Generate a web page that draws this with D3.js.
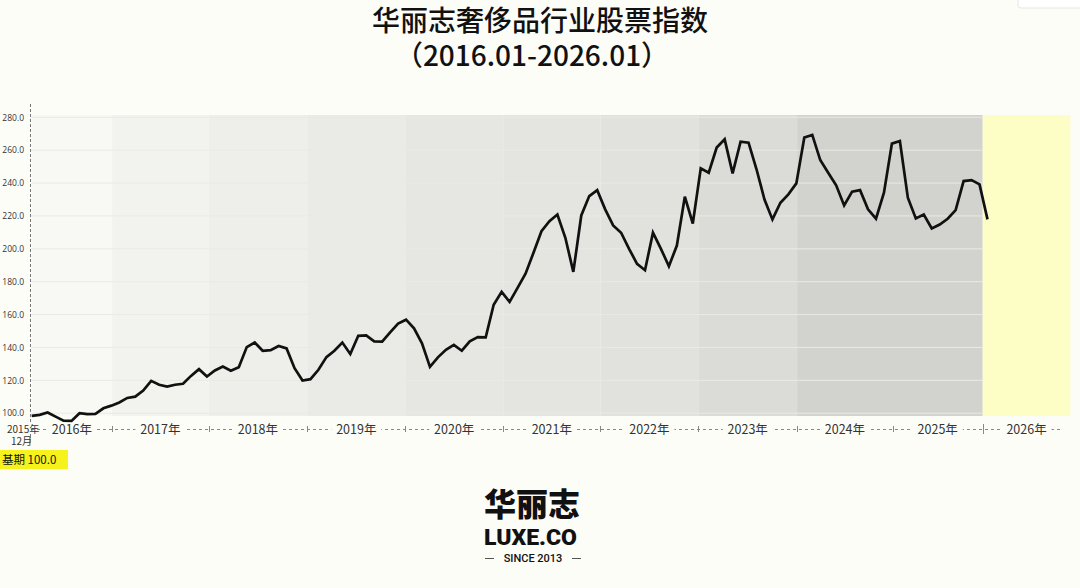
<!DOCTYPE html>
<html>
<head>
<meta charset="utf-8">
<script src="https://cdn.jsdelivr.net/npm/d3@7/dist/d3.min.js"></script>
<style>
  html, body { margin: 0; padding: 0; background: #fdfdf8; }
  svg { display: block; font-family: "Noto Sans CJK SC", "Noto Sans", sans-serif; }
  .ylab { font-family: "Open Sans", "Noto Sans", sans-serif; font-size: 8.5px; fill: #333; }
  .year { font-size: 12.5px; fill: #333; }
</style>
</head>
<body>
<svg id="chart"></svg>
<script>
// monthly index, base period = first point
const values = [
  98.4, 99.0, 100.4, 97.9, 95.5, 95.3, 100.0, 99.4, 99.6, 103.0,
  104.6, 106.5, 109.3, 110.1, 113.8, 119.7, 117.3, 116.2, 117.3, 117.9,
  122.7, 126.8, 122.3, 126.0, 128.4, 125.8, 128.0, 140.2, 143.0, 138.0,
  138.4, 140.9, 139.4, 127.4, 119.9, 120.7, 126.4, 134.1, 138.0, 143.0,
  136.0, 147.1, 147.3, 143.7, 143.5, 149.1, 154.5, 156.9, 151.6, 142.5,
  128.2, 134.0, 138.6, 141.6, 138.0, 143.7, 146.3, 146.1, 166.0, 173.8,
  167.7, 176.2, 184.9, 197.6, 210.7, 216.8, 220.9, 206.7, 186.0, 220.3,
  232.1, 235.7, 224.0, 214.2, 209.8, 200.0, 190.9, 187.0, 209.8, 200.0,
  189.4, 202.0, 231.7, 215.4, 248.9, 246.3, 261.6, 266.6, 245.9, 265.2,
  264.6, 248.4, 230.0, 217.9, 228.0, 233.1, 239.8, 267.7, 269.3, 254.0,
  246.3, 238.6, 226.4, 234.8, 235.7, 224.0, 218.3, 234.1, 264.0, 265.6,
  231.1, 218.5, 220.9, 212.4, 214.8, 218.3, 223.5, 241.2, 241.8, 239.2,
  217.9
];

// year segments on the x axis, in month-index units
const yearBounds = [0, 10.1, 22.2, 34.6, 46.9, 59.2, 71.4, 83.7, 96.1, 108.1, 119.4, 130.4];
const yearLabels = ['2016年', '2017年', '2018年', '2019年', '2020年', '2021年',
  '2022年', '2023年', '2024年', '2025年', '2026年'];
// shaded background bands: [from, to, colour]
const bandBounds = [0, 10.1, 22.2, 34.6, 46.9, 59.2, 71.4, 83.7, 96.1, 119.4, 130.4];
const bandColors = ['#f8f8f4', '#f2f2ee', '#eeeeea', '#eaeae7', '#e6e6e2', '#e4e4e0',
  '#e1e1dd', '#dbdbd7', '#d2d2ce', '#fdfdc6'];
const yTicks = [100, 120, 140, 160, 180, 200, 220, 240, 260, 280];

const fullWidth = 1080;
const fullHeight = 588;

const svg = d3.select('#chart')
    .attr('width', fullWidth)
    .attr('height', fullHeight);

const x = d3.scaleLinear()
    .domain([0, values.length - 1])
    .range([31.7, 987.5]);

const y = d3.scaleLinear()
    .domain([98.3, 281.4])
    .range([416, 115]);

// title
svg.append('text')
    .attr('x', 540)
    .attr('y', 31)
    .attr('text-anchor', 'middle')
    .style('font-size', '28px')
    .style('font-weight', 500)
    .style('fill', '#111')
    .text('华丽志奢侈品行业股票指数');

svg.append('text')
    .attr('x', 532)
    .attr('y', 66)
    .attr('text-anchor', 'middle')
    .style('font-size', '28px')
    .style('font-weight', 500)
    .style('fill', '#111')
    .text('（2016.01-2026.01）');

// background bands
svg.append('g')
  .selectAll('rect')
  .data(bandColors)
  .join('rect')
    .attr('x', (d, i) => x(bandBounds[i]))
    .attr('width', (d, i) => x(bandBounds[i + 1]) - x(bandBounds[i]))
    .attr('y', y.range()[1])
    .attr('height', y.range()[0] - y.range()[1])
    .attr('fill', d => d);

// gridlines
svg.append('g')
  .selectAll('line')
  .data(yTicks)
  .join('line')
    .attr('x1', 31)
    .attr('x2', x(bandBounds[bandBounds.length - 2]))
    .attr('y1', d => y(d))
    .attr('y2', d => y(d))
    .attr('stroke', '#e9e9e6')
    .attr('stroke-width', 1);

// y axis
const yAxis = svg.append('g')
    .attr('transform', 'translate(30, 0)')
    .call(d3.axisLeft(y)
      .tickValues(yTicks)
      .tickFormat(d3.format('.1f'))
      .tickSize(0)
      .tickPadding(6));
yAxis.select('.domain').remove();
yAxis.selectAll('text')
    .attr('class', 'ylab')
    .attr('font-family', null)
    .attr('font-size', null);

svg.append('line')
    .attr('x1', 30.5).attr('x2', 30.5)
    .attr('y1', 104).attr('y2', 444)
    .attr('stroke', '#777')
    .attr('stroke-dasharray', '3,2');

// x axis: dashed line, ticks, year labels
const axisY = 429;
svg.append('line')
    .attr('x1', 31).attr('x2', 1062)
    .attr('y1', axisY + 0.5).attr('y2', axisY + 0.5)
    .attr('stroke', '#888')
    .attr('stroke-dasharray', '3,3');

svg.append('g')
  .selectAll('line')
  .data(yearBounds.slice(1, -1))
  .join('line')
    .attr('x1', d => Math.round(x(d)) + 0.5)
    .attr('x2', d => Math.round(x(d)) + 0.5)
    .attr('y1', (d, i) => (i === yearBounds.length - 3 ? axisY - 5 : axisY - 3))
    .attr('y2', (d, i) => (i === yearBounds.length - 3 ? axisY + 5 : axisY + 3))
    .attr('stroke', '#888');

const yearG = svg.append('g');
yearLabels.forEach((label, i) => {
  const cx = (x(yearBounds[i]) + x(yearBounds[i + 1])) / 2;
  yearG.append('rect')
      .attr('x', cx - 25)
      .attr('y', axisY - 6)
      .attr('width', 50)
      .attr('height', 12)
      .attr('fill', '#fdfdf8');
  yearG.append('text')
      .attr('class', 'year')
      .attr('x', cx)
      .attr('y', axisY + 4.5)
      .attr('text-anchor', 'middle')
      .text(label);
});

// start-of-series label
svg.append('rect')
    .attr('x', 7).attr('y', axisY - 6)
    .attr('width', 24).attr('height', 11)
    .attr('fill', '#fdfdf8');
svg.append('text')
    .attr('x', 7).attr('y', axisY + 3.5)
    .style('font-size', '10px')
    .style('fill', '#333')
    .text('2015年');
svg.append('text')
    .attr('x', 11).attr('y', axisY + 15.5)
    .style('font-size', '10px')
    .style('fill', '#333')
    .text('12月');
svg.append('line')
    .attr('x1', 30.5).attr('x2', 30.5)
    .attr('y1', axisY + 6).attr('y2', axisY + 14)
    .attr('stroke', '#777')
    .attr('stroke-dasharray', '3,2');

// index line
const line = d3.line()
    .x((d, i) => x(i))
    .y(d => y(d));

svg.append('path')
    .datum(values)
    .attr('d', line)
    .attr('fill', 'none')
    .attr('stroke', '#111')
    .attr('stroke-width', 2.7)
    .attr('stroke-linejoin', 'miter');

// base period tag
svg.append('rect')
    .attr('x', 0).attr('y', 450)
    .attr('width', 68).attr('height', 19)
    .attr('fill', '#f6f31c');
svg.append('text')
    .attr('x', 2).attr('y', 464)
    .style('font-size', '11.5px')
    .style('fill', '#111')
    .text('基期 100.0');

// logo
const logo = svg.append('g').style('fill', '#111');
logo.append('text')
    .attr('x', 532).attr('y', 516)
    .attr('text-anchor', 'middle')
    .style('font-size', '32px')
    .style('font-weight', 900)
    .text('华丽志');
logo.append('text')
    .attr('x', 484).attr('y', 545)
    .attr('textLength', 93)
    .attr('lengthAdjust', 'spacingAndGlyphs')
    .style('font-family', 'Roboto, "Noto Sans", sans-serif')
    .style('font-size', '22.5px')
    .style('font-weight', 900)
    .text('LUXE.CO');
logo.append('text')
    .attr('x', 533).attr('y', 562)
    .attr('text-anchor', 'middle')
    .style('font-family', 'Roboto, "Noto Sans", sans-serif')
    .style('font-size', '11px')
    .style('font-weight', 500)
    .text('SINCE 2013');
[[485, 494], [572, 581]].forEach(([a, b]) => {
  logo.append('line')
      .attr('x1', a).attr('x2', b)
      .attr('y1', 558.5).attr('y2', 558.5)
      .attr('stroke', '#555')
      .attr('stroke-width', 1);
});

// corner widget remnant
svg.append('rect')
    .attr('x', 1018).attr('y', -6)
    .attr('width', 70).attr('height', 14)
    .attr('rx', 3)
    .attr('fill', '#ffffff')
    .attr('stroke', '#e6e6e3');
</script>
</body>
</html>
